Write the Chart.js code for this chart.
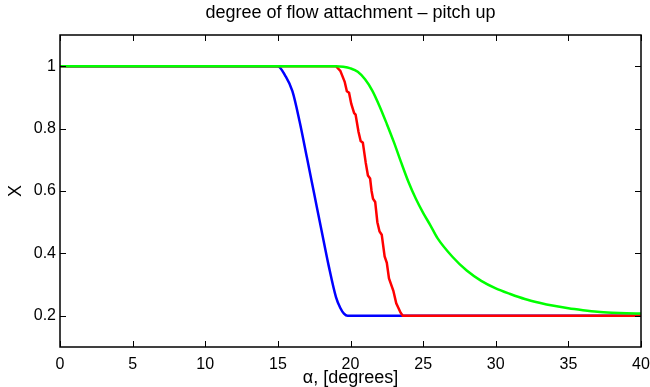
<!DOCTYPE html>
<html>
<head>
<meta charset="utf-8">
<script src="https://cdn.jsdelivr.net/npm/chart.js@4.4.0/dist/chart.umd.min.js"></script>
<style>
  html, body { margin: 0; padding: 0; background: #fff; }
  #wrap { width: 650px; height: 387px; }
</style>
</head>
<body>
<div id="wrap"><canvas id="myChart"></canvas></div>
<script>
// angle of attack [deg] and degree of attachment X for the three curves
const blueAlpha = [0, 15, 15.5, 16, 16.5, 17, 17.5, 18, 18.5, 19, 19.3, 19.55, 19.8, 40];
const blueX     = [1, 1, 0.97, 0.92, 0.822, 0.707, 0.591, 0.475, 0.36, 0.26, 0.225, 0.207, 0.2, 0.2];

const redAlpha = [0, 19.0, 19.3, 19.6, 19.75, 19.9, 20.05, 20.25, 20.35, 20.55, 20.7, 20.85, 21.05, 21.2, 21.35,
                  21.45, 21.55, 21.7, 21.85, 22.0, 22.15, 22.35, 22.5, 22.65, 22.8, 22.95, 23.15, 23.3, 23.45, 23.6, 40];
const redX     = [1, 1, 0.985, 0.95, 0.92, 0.915, 0.88, 0.85, 0.845, 0.79, 0.76, 0.755, 0.69, 0.65, 0.64,
                  0.6, 0.575, 0.565, 0.5, 0.47, 0.46, 0.39, 0.37, 0.32, 0.3, 0.28, 0.24, 0.225, 0.21, 0.2, 0.2];

const greenAlpha = [0, 19, 19.5, 20, 20.5, 21, 21.5, 22, 22.5, 23, 23.5, 24, 24.5, 25, 25.5, 26,
                    27, 28, 29, 30, 31, 32, 33, 34, 35, 36, 37, 38, 39, 40];
const greenX     = [1, 1, 0.998, 0.993, 0.982, 0.958, 0.922, 0.872, 0.815, 0.755, 0.69, 0.628, 0.575, 0.53, 0.49, 0.448,
                    0.39, 0.345, 0.312, 0.288, 0.27, 0.254, 0.242, 0.232, 0.224, 0.218, 0.213, 0.21, 0.208, 0.207];

const xTicks = [0, 5, 10, 15, 20, 25, 30, 35, 40];
const yTicks = [0.2, 0.4, 0.6, 0.8, 1];

function pts(xs, ys) {
    return xs.map((x, i) => ({ x: x, y: ys[i] }));
}

function line(label, xs, ys, color, smooth) {
    return {
        label: label,
        data: pts(xs, ys),
        showLine: true,
        borderColor: color,
        backgroundColor: color,
        borderWidth: 2.5,
        pointRadius: 0,
        cubicInterpolationMode: smooth ? 'monotone' : 'default',
        tension: 0
    };
}

// matlab style box with inward ticks on all four sides
const boxPlugin = {
    id: 'box',
    afterDraw(chart) {
        const c = chart.ctx, a = chart.chartArea;
        const xs = chart.scales.x, ys = chart.scales.y;
        c.save();
        c.strokeStyle = '#000';
        c.lineWidth = 1;
        xTicks.forEach(v => {
            const px = Math.round(xs.getPixelForValue(v)) + 0.5;
            c.beginPath();
            c.moveTo(px, a.bottom); c.lineTo(px, a.bottom - 6);
            c.moveTo(px, a.top); c.lineTo(px, a.top + 6);
            c.stroke();
        });
        yTicks.forEach(v => {
            const py = Math.round(ys.getPixelForValue(v)) + 0.5;
            c.beginPath();
            c.moveTo(a.left, py); c.lineTo(a.left + 6, py);
            c.moveTo(a.right, py); c.lineTo(a.right - 6, py);
            c.stroke();
        });
        c.lineWidth = 1.5;
        c.strokeRect(a.left, a.top, a.right - a.left, a.bottom - a.top);
        c.restore();
    }
};

const font = "'Liberation Sans', Arial, Helvetica, sans-serif";

new Chart(document.querySelector('#myChart'), {
    type: 'scatter',
    data: {
        // first dataset is drawn on top
        datasets: [
            line('green', greenAlpha, greenX, '#00ff00', true),
            line('red', redAlpha, redX, '#ff0000', false),
            line('blue', blueAlpha, blueX, '#0000ff', true)
        ]
    },
    options: {
        responsive: true,
        maintainAspectRatio: false,
        animation: false,
        layout: { padding: 0 },
        plugins: {
            legend: { display: false },
            tooltip: { enabled: false },
            title: {
                display: true,
                fullSize: false,
                text: 'degree of flow attachment \u2013 pitch up',
                color: '#000',
                font: { family: font, size: 18, weight: 'normal', lineHeight: 1.2 },
                padding: { top: 2, bottom: 11.4 }
            }
        },
        scales: {
            x: {
                type: 'linear',
                min: 0,
                max: 40,
                afterBuildTicks: s => { s.ticks = xTicks.map(v => ({ value: v })); },
                afterFit: s => { s.height = 40; s.paddingRight = 9; s.paddingLeft = 0; },
                grid: { display: false, drawTicks: false },
                border: { display: false },
                ticks: { color: '#000', padding: 8, font: { family: font, size: 16 }, maxRotation: 0 },
                title: {
                    display: true,
                    text: '\u03b1, [degrees]',
                    color: '#000',
                    font: { family: font, size: 18 },
                    padding: { top: 0, bottom: -2 }
                }
            },
            y: {
                type: 'linear',
                min: 0.1,
                max: 1.1,
                afterBuildTicks: s => { s.ticks = yTicks.map(v => ({ value: v })); },
                afterFit: s => { s.width = 60; },
                grid: { display: false, drawTicks: false },
                border: { display: false },
                ticks: { color: '#000', padding: 4, font: { family: font, size: 16 }, callback: v => String(v) },
                title: {
                    display: true,
                    text: 'X',
                    color: '#000',
                    font: { family: font, size: 18 },
                    padding: { top: 5, bottom: 0 }
                }
            }
        }
    },
    plugins: [boxPlugin]
});
</script>
</body>
</html>
